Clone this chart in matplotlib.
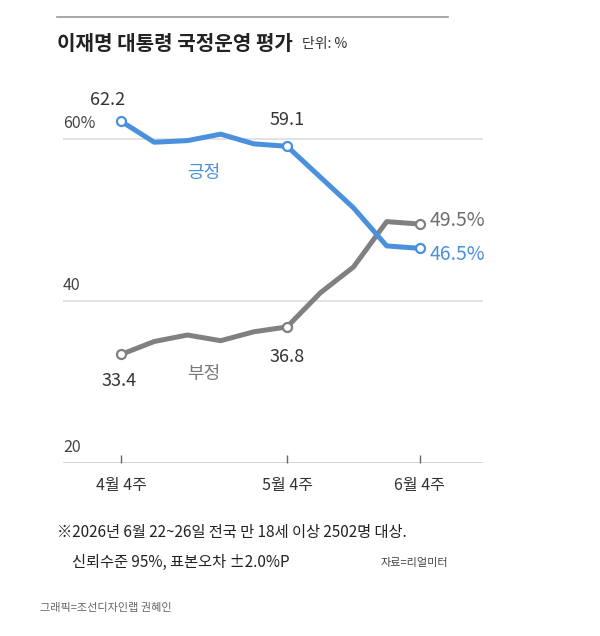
import matplotlib
matplotlib.use("Agg")
import matplotlib.pyplot as plt
from matplotlib.lines import Line2D
from matplotlib.transforms import blended_transform_factory

plt.rcParams['font.family'] = ['Noto Sans CJK KR', 'DejaVu Sans']

# --- data -------------------------------------------------------------------
weeks = list(range(10))                      # weekly surveys, 4월 4주 .. 6월 4주
positive = [62.2, 59.6, 59.8, 60.6, 59.4, 59.1, 55.3, 51.5, 46.8, 46.5]
negative = [33.4, 35.0, 35.8, 35.1, 36.2, 36.8, 41.0, 44.2, 49.8, 49.5]
tick_idx = [0, 5, 9]
tick_labels = ["4월 4주", "5월 4주", "6월 4주"]
y_grid = [20, 40, 60]
y_grid_labels = ["20", "40", "60%"]

BLUE = "#4a90dc"
GRAY = "#808080"

W, H = 600, 636
fig = plt.figure(figsize=(W / 100, H / 100), dpi=100)


def fx(px):
    return px / W


def fy(px):
    return 1 - px / H


# axes: left grid edge 63px, right 483px, baseline (20) at 463px, top 65 at ~98px
ax = fig.add_axes([fx(63), fy(463), fx(483) - fx(63), fy(98.5) - fy(463)])
ax.set_xlim(-1.747, 10.9)
ax.set_ylim(20, 65)
for s in ax.spines.values():
    s.set_visible(False)
ax.set_yticks([])

for v in y_grid:
    ax.axhline(v, color="#cfcfcf" if v == 20 else "#dedede", lw=1.2, zorder=0)

trans = blended_transform_factory(ax.transAxes, ax.transData)
for v, lab in zip(y_grid, y_grid_labels):
    ax.annotate(lab, (0, v), xycoords=trans, xytext=(0, 7), textcoords="offset pixels",
                ha="left", va="bottom", fontsize=11.5, color="#444444")

ax.set_xticks(tick_idx)
ax.set_xticklabels(tick_labels, fontsize=11.5, color="#333333")
ax.tick_params(axis="x", direction="in", length=6, width=1, color="#666666", pad=10)

ax.plot(weeks, negative, color=GRAY, lw=3.6, solid_joinstyle="round", zorder=2,
        marker="o", markevery=tick_idx, ms=6.5, mfc="white", mec=GRAY, mew=1.6)
ax.plot(weeks, positive, color=BLUE, lw=3.6, solid_joinstyle="round", zorder=3,
        marker="o", markevery=tick_idx, ms=6.5, mfc="white", mec=BLUE, mew=1.6)

# value labels
ax.annotate(f"{positive[0]}", (0, positive[0]), xytext=(-13, 21), textcoords="offset pixels",
            ha="center", va="center", fontsize=13, color="#333333")
ax.annotate(f"{positive[5]}", (5, positive[5]), xytext=(0, 26), textcoords="offset pixels",
            ha="center", va="center", fontsize=13, color="#333333")
ax.annotate(f"{negative[0]}", (0, negative[0]), xytext=(-2, -27), textcoords="offset pixels",
            ha="center", va="center", fontsize=13, color="#333333")
ax.annotate(f"{negative[5]}", (5, negative[5]), xytext=(0, -30), textcoords="offset pixels",
            ha="center", va="center", fontsize=13, color="#333333")
ax.annotate(f"{negative[9]}%", (9, negative[9]), xytext=(10, 4), textcoords="offset pixels",
            ha="left", va="center", fontsize=14, color="#6e6e6e")
ax.annotate(f"{positive[9]}%", (9, positive[9]), xytext=(10, -6), textcoords="offset pixels",
            ha="left", va="center", fontsize=14, color=BLUE, fontweight="medium")

# series names
ax.text(2.5, 55.8, "긍정", ha="center", va="center", fontsize=13, color=BLUE, fontweight="medium")
ax.text(2.5, 31.0, "부정", ha="center", va="center", fontsize=13, color="#7a7a7a")

# header
fig.add_artist(Line2D([fx(57), fx(448)], [fy(17), fy(17)], transform=fig.transFigure,
                      color="#9a9a9a", lw=1.2))
fig.text(fx(57), fy(43), "이재명 대통령 국정운영 평가", ha="left", va="center",
         fontsize=14.5, fontweight="bold", color="#222222")
fig.text(fx(302), fy(44), "단위: %", ha="left", va="center", fontsize=10, color="#333333")

# footnotes
fig.text(fx(57), fy(533), "※2026년 6월 22~26일 전국 만 18세 이상 2502명 대상.",
         ha="left", va="center", fontsize=11, color="#222222")
fig.text(fx(72), fy(562), "신뢰수준 95%, 표본오차 ±2.0%P",
         ha="left", va="center", fontsize=11, color="#222222")
fig.text(fx(448), fy(563), "자료=리얼미터", ha="right", va="center", fontsize=8, color="#444444")
fig.text(fx(40), fy(608), "그래픽=조선디자인랩 권혜인", ha="left", va="center",
         fontsize=8, color="#666666")

fig.savefig("out.png", dpi=100)
